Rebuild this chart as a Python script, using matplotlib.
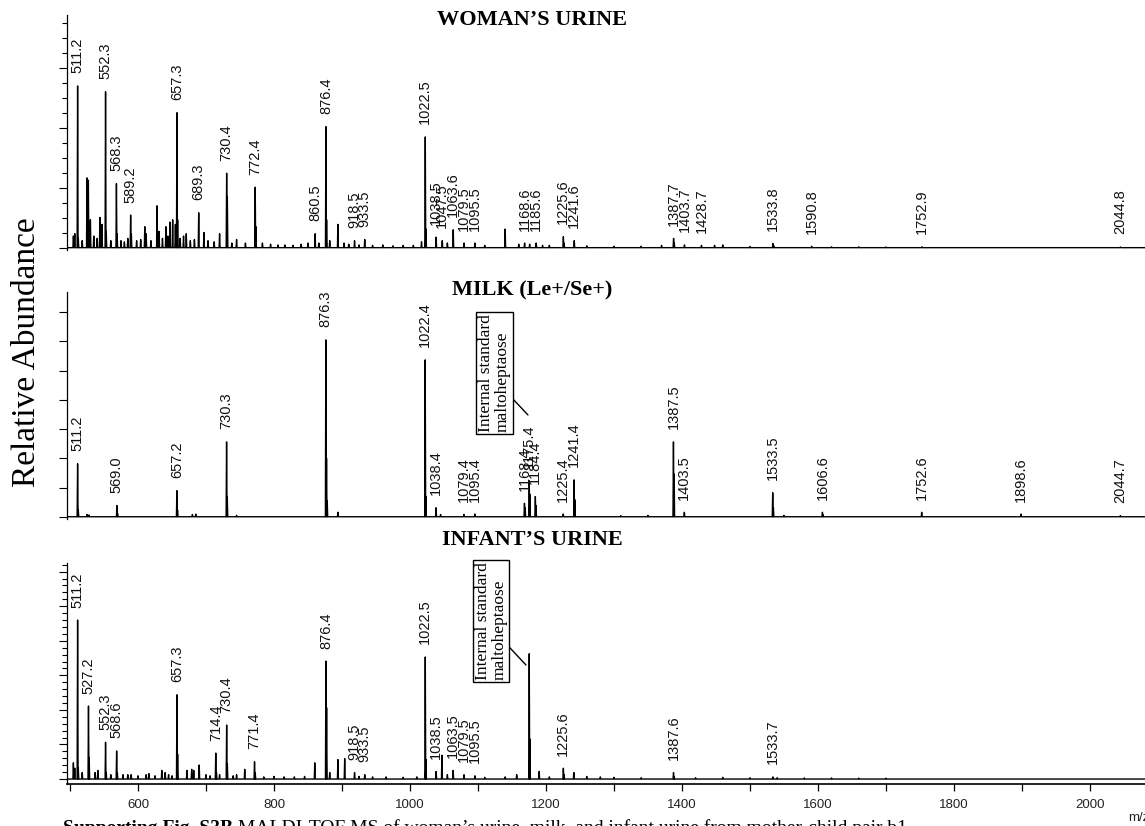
import numpy as np
import matplotlib.pyplot as plt
from matplotlib.ticker import MultipleLocator, FuncFormatter

# ---- peak lists (m/z, relative height) ----
# woman's urine: labelled peaks
woman_mz = [511.2, 552.3, 568.3, 589.2, 657.3, 689.3, 730.4, 772.4, 860.5, 876.4,
            918.5, 933.5, 1022.5, 1038.5, 1047.5, 1063.6, 1079.5, 1095.5, 1168.6,
            1185.6, 1225.6, 1241.6, 1387.7, 1403.7, 1428.7, 1533.8, 1590.8, 1752.9, 2044.8]
woman_h = [0.695, 0.67, 0.275, 0.14, 0.58, 0.15, 0.32, 0.26, 0.06, 0.52,
           0.03, 0.035, 0.476, 0.045, 0.03, 0.077, 0.02, 0.02, 0.02,
           0.02, 0.047, 0.03, 0.04, 0.012, 0.01, 0.018, 0.006, 0.004, 0.003]
# woman's urine: unlabelled peaks
woman_minor_mz = [505, 507, 512.2, 518, 525, 527, 530, 535, 540, 544, 547, 553.3, 560, 569.3,
                  575, 580, 585, 590.2, 598, 604, 610, 612, 619, 628, 631, 636, 641, 644,
                  647, 651, 655, 658.3, 662, 667, 671, 677, 683, 697, 703, 712, 720, 731.4,
                  738, 745, 758, 773.4, 783, 795, 806, 816, 828, 840, 850, 866, 877.4,
                  882, 894, 903, 910, 925, 945, 960, 975, 990, 1005, 1017, 1023.5, 1055,
                  1110, 1140, 1160, 1176, 1195, 1205, 1226.6, 1260, 1300, 1340, 1370,
                  1388.7, 1448, 1460, 1500, 1535, 1620, 1660, 1700]
woman_minor_h = [0.05, 0.06, 0.04, 0.03, 0.30, 0.29, 0.12, 0.05, 0.04, 0.13, 0.10, 0.07,
                 0.03, 0.06, 0.03, 0.025, 0.04, 0.06, 0.03, 0.035, 0.09, 0.06, 0.03, 0.18,
                 0.07, 0.04, 0.09, 0.05, 0.11, 0.12, 0.10, 0.12, 0.04, 0.05, 0.06, 0.03,
                 0.035, 0.065, 0.03, 0.025, 0.06, 0.22, 0.02, 0.035, 0.02, 0.09, 0.02,
                 0.015, 0.012, 0.012, 0.01, 0.015, 0.02, 0.02, 0.12, 0.03, 0.10, 0.02,
                 0.015, 0.012, 0.01, 0.012, 0.008, 0.01, 0.01, 0.025, 0.08, 0.02, 0.01,
                 0.08, 0.015, 0.015, 0.01, 0.01, 0.02, 0.008, 0.006, 0.006, 0.01, 0.02,
                 0.01, 0.012, 0.005, 0.008, 0.004, 0.004, 0.003]

# milk
milk_mz = [511.2, 569.0, 657.2, 730.3, 876.3, 1022.4, 1038.4, 1079.4, 1095.4, 1168.4,
           1175.4, 1184.4, 1225.4, 1241.4, 1387.5, 1403.5, 1533.5, 1606.6, 1752.6,
           1898.6, 2044.7]
milk_h = [0.236, 0.05, 0.116, 0.333, 0.787, 0.698, 0.04, 0.01, 0.012, 0.06,
          0.16, 0.09, 0.012, 0.164, 0.333, 0.02, 0.107, 0.02, 0.02,
          0.012, 0.005]
milk_minor_mz = [512.2, 525, 528, 570.0, 658.2, 680, 685, 731.3, 745, 877.3, 878.3, 894,
                 1023.4, 1045, 1169.4, 1176.4, 1185.4, 1242.4, 1310, 1350, 1388.5, 1534.5,
                 1550, 1607.6]
milk_minor_h = [0.03, 0.01, 0.008, 0.015, 0.03, 0.01, 0.012, 0.09, 0.006, 0.26, 0.07, 0.02,
                0.09, 0.01, 0.04, 0.10, 0.05, 0.076, 0.005, 0.006, 0.19, 0.04,
                0.006, 0.008]

# infant's urine
infant_mz = [511.2, 527.2, 552.3, 568.6, 657.3, 714.4, 730.4, 771.4, 876.4, 918.5,
             933.5, 1022.5, 1038.5, 1063.5, 1079.5, 1095.5, 1225.6, 1387.6, 1533.7]
infant_h = [0.736, 0.338, 0.17, 0.13, 0.39, 0.12, 0.25, 0.08, 0.546, 0.03,
            0.02, 0.565, 0.035, 0.04, 0.02, 0.015, 0.05, 0.03, 0.01]
infant_minor_mz = [505, 507, 512.2, 518, 528.2, 537, 541, 553.3, 560, 569.6, 578, 585,
                   590, 600, 612, 616, 625, 635, 640, 645, 650, 658.3, 672, 679, 682,
                   690, 700, 706, 715.4, 720, 731.4, 740, 745, 757, 772.4, 785, 800,
                   815, 830, 845, 860, 877.4, 882, 894, 904, 925, 945, 965, 990, 1010,
                   1023.5, 1047, 1055, 1110, 1140, 1157, 1175.4, 1176.4, 1190, 1205,
                   1226.6, 1241, 1260, 1280, 1300, 1340, 1388.6, 1420, 1460, 1500, 1540,
                   1580, 1620, 1660, 1700]
infant_minor_h = [0.075, 0.05, 0.05, 0.03, 0.10, 0.03, 0.04, 0.03, 0.02, 0.03, 0.02, 0.02,
                  0.02, 0.015, 0.02, 0.025, 0.015, 0.04, 0.03, 0.02, 0.015, 0.115, 0.04,
                  0.045, 0.04, 0.065, 0.02, 0.015, 0.03, 0.02, 0.07, 0.015, 0.02, 0.045,
                  0.03, 0.01, 0.012, 0.01, 0.01, 0.012, 0.075, 0.33, 0.03, 0.09, 0.095,
                  0.012, 0.01, 0.01, 0.008, 0.01, 0.09, 0.11, 0.02, 0.008, 0.01, 0.02,
                  0.58, 0.185, 0.035, 0.01, 0.02, 0.03, 0.012, 0.01, 0.008, 0.006, 0.01,
                  0.006, 0.008, 0.006, 0.006, 0.005, 0.005, 0.004, 0.004]

panel_titles = ["WOMAN\u2019S URINE", "MILK (Le+/Se+)", "INFANT\u2019S URINE"]
standard_note = "Internal standard\nmaltoheptaose"
caption_bold = "Supporting Fig. S3B"
caption_rest = " MALDI-TOF MS of woman\u2019s urine, milk, and infant urine from mother-child pair b1"

XMIN, XMAX = 495.6, 2081
SERIF = "Liberation Serif"
SANS = "Liberation Sans"

W, H = 1145, 826
fig = plt.figure(figsize=(W / 100, H / 100), dpi=100)


def axes_px(left, top, right, bottom):
    return fig.add_axes([left / W, 1 - bottom / H, (right - left) / W, (bottom - top) / H])


def spectrum(mz, h, width=0.7):
    """stick peaks joined by a flat baseline"""
    mz = np.asarray(mz, float)
    h = np.asarray(h, float)
    order = np.argsort(mz)
    xs, ys = [XMIN], [0.0]
    for m, v in zip(mz[order], h[order]):
        xs += [m - width, m, m + width]
        ys += [0.0, v, 0.0]
    xs.append(XMAX)
    ys.append(0.0)
    return np.array(xs), np.array(ys)


def draw_panel(ax, mz, h, minor_mz, minor_h, ymin):
    x, y = spectrum(list(mz) + list(minor_mz), list(h) + list(minor_h))
    ax.plot(x, y, color="black", lw=1.0)
    ax.set_xlim(XMIN, XMAX)
    ax.set_ylim(ymin, 1.0)
    for s in ["top", "right"]:
        ax.spines[s].set_visible(False)
    ax.spines["left"].set_linewidth(0.9)
    ax.tick_params(axis="y", which="both", direction="out", labelleft=False, width=0.8)
    ax.tick_params(axis="y", which="major", length=6)
    ax.tick_params(axis="y", which="minor", length=3.5)
    for m, v in zip(mz, h):
        ax.annotate(f"{m:.1f}", xy=(m, v), xytext=(0, 9), textcoords="offset points",
                    rotation=90, ha="center", va="bottom", fontsize=10.5,
                    family=SANS, color="#111111")


ax_w = axes_px(67, 15, 1145, 250)
ax_m = axes_px(67, 292, 1145, 519)
ax_i = axes_px(67, 563, 1145, 784)

draw_panel(ax_w, woman_mz, woman_h, woman_minor_mz, woman_minor_h, -0.01)
draw_panel(ax_m, milk_mz, milk_h, milk_minor_mz, milk_minor_h, -0.01)
draw_panel(ax_i, infant_mz, infant_h, infant_minor_mz, infant_minor_h, -0.023)

ax_w.yaxis.set_major_locator(MultipleLocator(0.258))
ax_w.yaxis.set_minor_locator(MultipleLocator(0.0645))
ax_m.yaxis.set_major_locator(MultipleLocator(0.13))
ax_m.yaxis.set_minor_locator(MultipleLocator(0.13))
ax_i.yaxis.set_major_locator(MultipleLocator(0.16))
ax_i.yaxis.set_minor_locator(MultipleLocator(0.032))

for ax in (ax_w, ax_m):
    ax.spines["bottom"].set_visible(False)
    ax.xaxis.set_visible(False)

ax_i.spines["bottom"].set_linewidth(1.2)
ax_i.xaxis.set_major_locator(MultipleLocator(100))
ax_i.xaxis.set_major_formatter(FuncFormatter(lambda v, p: f"{v:.0f}" if v % 200 == 0 else ""))
ax_i.tick_params(axis="x", direction="out", length=5, width=0.9, pad=6,
                 labelsize=9.5, labelcolor="#222222")
for lab in ax_i.get_xticklabels():
    lab.set_family(SANS)

# internal standard call-outs
for ax, box_xy, tip_xy in [(ax_m, (1124, 0.64), (1173.5, 0.453)),
                           (ax_i, (1119, 0.73), (1170.6, 0.528))]:
    ax.annotate(standard_note, xy=tip_xy, xytext=box_xy, textcoords="data",
                rotation=90, ha="center", va="center", fontsize=12.5, family=SERIF,
                linespacing=1.05, multialignment="left", annotation_clip=False,
                bbox=dict(boxstyle="square,pad=0.12", fc="white", ec="black", lw=1.0),
                arrowprops=dict(arrowstyle="-", lw=1.0, color="black", relpos=(1.0, 0.3),
                                shrinkA=0, shrinkB=0))

# panel titles
for title, ypx in zip(panel_titles, [20, 290, 540]):
    fig.text(532 / W, 1 - ypx / H, title, ha="center", va="center", fontsize=16,
             family=SERIF, weight="bold")

fig.text(27 / W, 1 - 352 / H, "Relative Abundance", rotation=90, ha="center",
         va="center", fontsize=24, family=SERIF)

fig.text(1128 / W, 1 - 818 / H, "m/z", fontsize=9.5, family=SANS, ha="left",
         va="center", color="#222222")

cap = fig.text(63 / W, 1 - 833 / H, caption_bold, fontsize=14, family=SERIF,
               weight="bold", ha="left", va="baseline")
renderer = fig.canvas.get_renderer()
bb = cap.get_window_extent(renderer)
fig.text(bb.x1 / W, 1 - 833 / H, caption_rest, fontsize=14, family=SERIF,
         ha="left", va="baseline")

fig.savefig("out.png", dpi=100)
